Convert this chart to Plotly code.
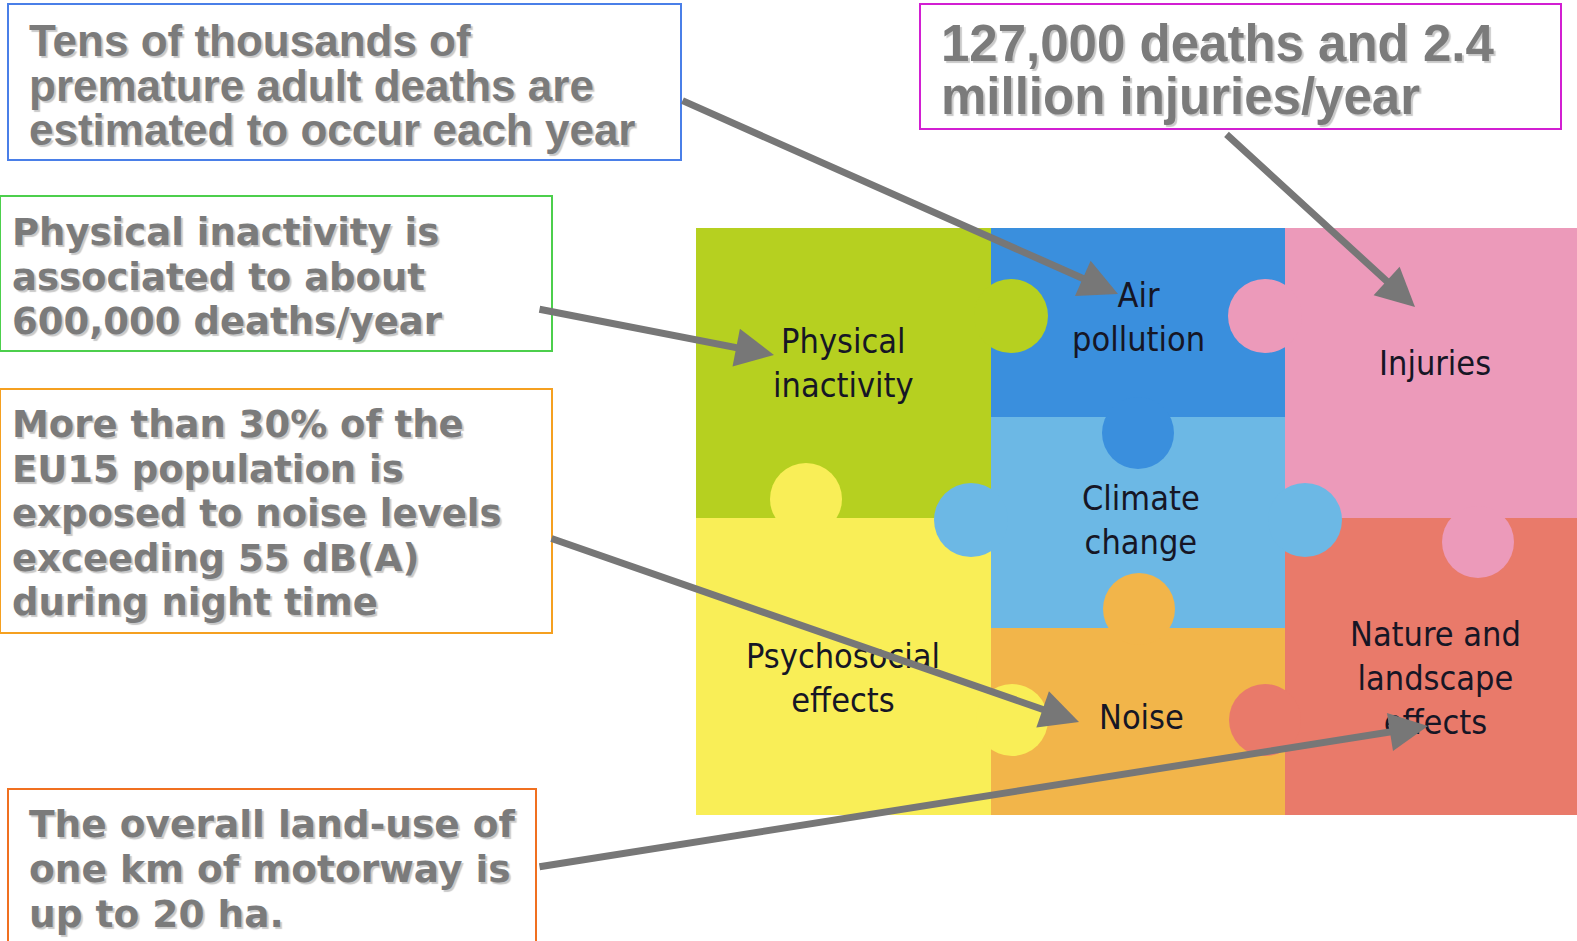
import plotly.graph_objects as go

# ---------------- content ----------------
piece_names = ["Physical<br>inactivity", "Air<br>pollution", "Injuries", "Climate<br>change",
               "Psychosocial<br>effects", "Noise", "Nature and<br>landscape<br>effects"]
piece_colors = ["#b6d020", "#3a8fdd", "#ec9aba", "#6cb8e5", "#f9ee57", "#f2b54a", "#e97a6a"]

callout_1 = ["Tens of thousands of", "premature adult deaths are", "estimated to occur each year"]
callout_2 = ["127,000 deaths and 2.4", "million injuries/year"]
callout_3 = ["Physical inactivity is", "associated to about", "600,000 deaths/year"]
callout_4 = ["More than 30% of the", "EU15 population is", "exposed to noise levels",
             "exceeding 55 dB(A)", "during night time"]
callout_5 = ["The overall land-use of", "one km of motorway is", "up to 20 ha."]

# ---------------- geometry ----------------
W, H = 1577, 941
piece_rects = [
    (696, 228, 991, 518),    # physical inactivity (green)
    (991, 228, 1285, 417),   # air pollution (blue)
    (1285, 228, 1577, 518),  # injuries (pink)
    (991, 417, 1285, 628),   # climate change (light blue)
    (696, 518, 991, 815),    # psychosocial (yellow)
    (991, 628, 1285, 815),   # noise (orange)
    (1285, 518, 1577, 815),  # nature (red)
]
knobs = [
    (0, 1011, 316, 37), (2, 1265, 316, 37), (1, 1138, 433, 36),
    (4, 806, 499, 36), (3, 971, 520, 37), (3, 1305, 520, 37),
    (2, 1478, 542, 36), (5, 1139, 609, 36), (4, 1012, 720, 36),
    (6, 1265, 720, 36),
]
label_pos = [(843, 363), (1138, 317), (1435, 363), (1141, 520), (843, 678), (1141, 717), (1435, 678)]

# mid = vertical centre of the text block, dy = line pitch
boxes = [
    dict(rect=(8, 4, 681, 160), color="#4a7fe8", lines=callout_1, x=27, mid=85, dy=44.5,
         font="Liberation Sans, Arial, sans-serif", size=44),
    dict(rect=(920, 4, 1561, 129), color="#d21fd2", lines=callout_2, x=939, mid=69.5, dy=53,
         font="Liberation Sans, Arial, sans-serif", size=51),
    dict(rect=(0, 196, 552, 351), color="#4ccf4c", lines=callout_3, x=10, mid=276.5, dy=44.5,
         font="DejaVu Sans, Verdana, sans-serif", size=37),
    dict(rect=(0, 389, 552, 633), color="#f5a020", lines=callout_4, x=10, mid=513, dy=44.5,
         font="DejaVu Sans, Verdana, sans-serif", size=37),
    dict(rect=(8, 789, 536, 950), color="#f07020", lines=callout_5, x=27, mid=869, dy=45,
         font="DejaVu Sans, Verdana, sans-serif", size=37.5),
]
arrows = [
    (681, 100, 1118, 294),
    (1225, 133, 1415, 307),
    (538, 309, 774, 355),
    (550, 538, 1079, 722),
    (538, 867, 1428, 726),
]

fig = go.Figure()
shapes = []
annotations = []

for (x0, y0, x1, y1), c in zip(piece_rects, piece_colors):
    shapes.append(dict(type="rect", x0=x0, y0=y0, x1=x1, y1=y1, xref="x", yref="y",
                       fillcolor=c, line=dict(width=0), layer="below"))
for i, cx, cy, r in knobs:
    shapes.append(dict(type="circle", x0=cx - r, y0=cy - r, x1=cx + r, y1=cy + r, xref="x", yref="y",
                       fillcolor=piece_colors[i], line=dict(width=0), layer="below"))

for name, (lx, ly) in zip(piece_names, label_pos):
    annotations.append(dict(x=lx, y=ly, xref="x", yref="y", text=name, showarrow=False,
                            xanchor="center", yanchor="middle", align="center",
                            font=dict(family="Liberation Sans Narrow, DejaVu Sans Condensed, sans-serif",
                                      size=34, color="#161625")))

for b in boxes:
    x0, y0, x1, y1 = b["rect"]
    shapes.append(dict(type="rect", x0=x0, y0=y0, x1=x1, y1=y1, xref="x", yref="y",
                       fillcolor="rgba(0,0,0,0)", line=dict(color=b["color"], width=2)))
    # line pitch is 1.3 x the outer font size; the glyphs use the inner span size
    outer = b["dy"] / 1.3
    txt = "<br>".join("<b><span style='font-size:%gpx'>%s</span></b>" % (b["size"], ln) for ln in b["lines"])
    annotations.append(dict(x=b["x"], y=b["mid"], xref="x", yref="y", text=txt, showarrow=False,
                            xanchor="left", yanchor="middle", align="left",
                            font=dict(family=b["font"], size=outer, color="#7b7b7b",
                                      shadow="2px 2px 1px #c9c9c9")))

for sx, sy, tx, ty in arrows:
    annotations.append(dict(x=tx, y=ty, ax=sx, ay=sy, xref="x", yref="y", axref="x", ayref="y",
                            text="", showarrow=True, arrowhead=2, arrowsize=1.1, arrowwidth=7,
                            arrowcolor="#777777", standoff=0, startstandoff=0))

fig.update_layout(
    width=W, height=H, margin=dict(l=0, r=0, t=0, b=0),
    paper_bgcolor="white", plot_bgcolor="white",
    xaxis=dict(range=[0, W], visible=False, fixedrange=True),
    yaxis=dict(range=[H, 0], visible=False, fixedrange=True),
    shapes=shapes, annotations=annotations, showlegend=False,
)

fig.write_html("out.html", config={"displayModeBar": False},
               post_script="document.body.style.margin='0';")
